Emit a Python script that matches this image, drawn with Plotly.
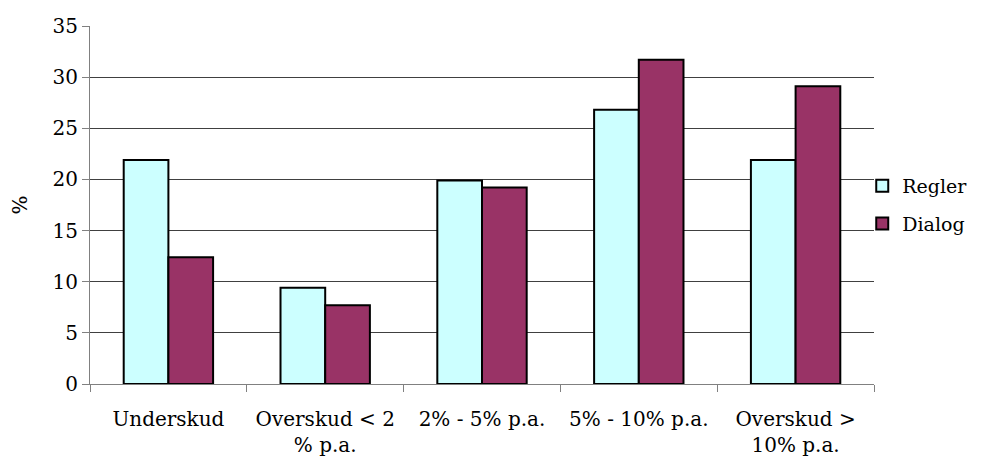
import plotly.graph_objects as go

categories = ["Underskud", "Overskud < 2<br>% p.a.", "2% - 5% p.a.", "5% - 10% p.a.", "Overskud ><br>10% p.a."]
regler = [21.9, 9.4, 19.9, 26.8, 21.9]
dialog = [12.4, 7.7, 19.2, 31.7, 29.1]
y_ticks = [0, 5, 10, 15, 20, 25, 30, 35]

FONT = "DejaVu Serif"

fig = go.Figure()
fig.add_trace(go.Bar(x=categories, y=regler, name="Regler", legendgroup="a",
                     marker=dict(color="#CCFFFF", line=dict(color="black", width=2))))
fig.add_trace(go.Bar(x=categories, y=dialog, name="Dialog", legendgroup="b",
                     marker=dict(color="#993366", line=dict(color="black", width=2))))

fig.update_layout(
    width=994, height=466,
    margin=dict(l=82, r=128, t=18, b=90),
    paper_bgcolor="white", plot_bgcolor="white",
    font=dict(family=FONT, size=19, color="black"),
    barmode="group", bargap=0.43, bargroupgap=0,
    showlegend=True,
    legend=dict(x=0.985, xanchor="left", y=0.5, yanchor="middle",
                font=dict(size=19, family=FONT), tracegroupgap=10, itemwidth=30,
                bgcolor="rgba(0,0,0,0)"),
)
fig.update_xaxes(
    showline=True, linecolor="#808080", linewidth=1,
    ticks="outside", tickson="boundaries", ticklen=7, tickcolor="#808080",
    showgrid=False, tickfont=dict(size=20, family=FONT),
    ticklabelstandoff=17, automargin=False,
)
fig.update_yaxes(
    range=[0, 35], tickvals=y_ticks,
    showline=True, linecolor="#808080", linewidth=1,
    ticks="outside", ticklen=7, tickcolor="#808080",
    showgrid=True, gridcolor="#404040", gridwidth=1,
    zeroline=False, automargin=False,
    tickfont=dict(size=20, family=FONT),
    title=dict(text="%", font=dict(size=20, family=FONT), standoff=22),
)

fig.write_html("out.html")
